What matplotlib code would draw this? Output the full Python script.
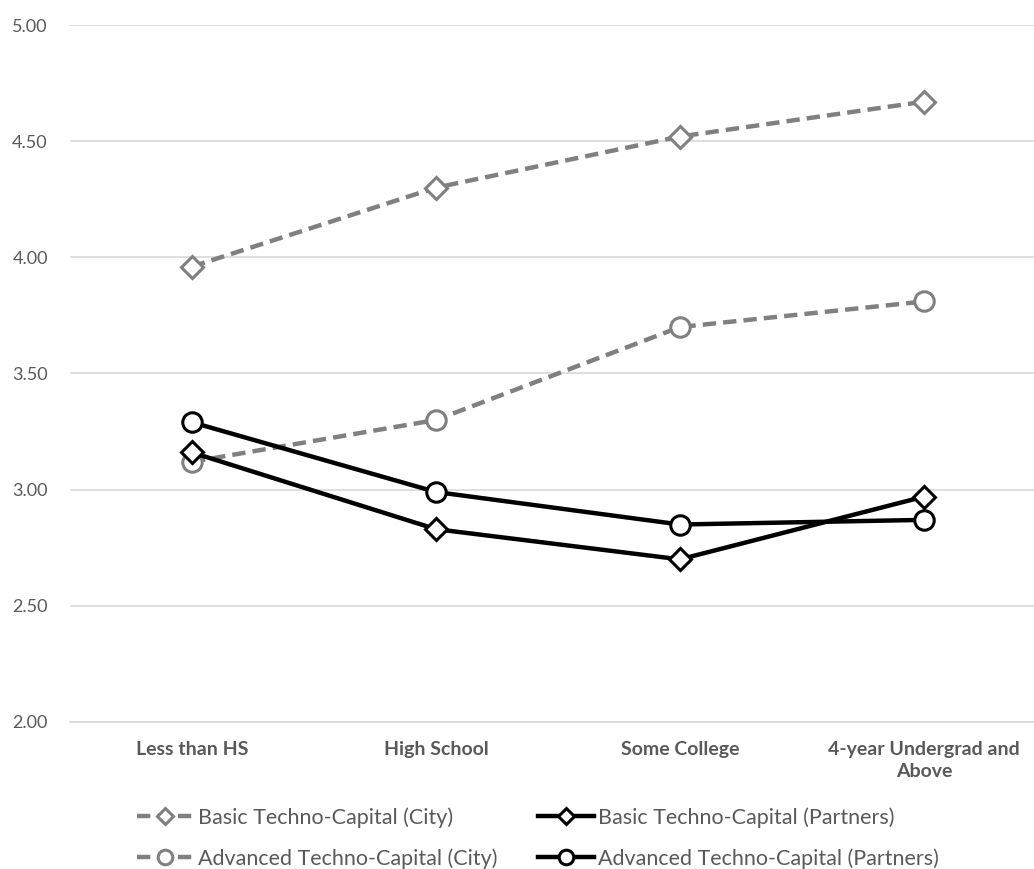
import matplotlib.pyplot as plt
import numpy as np

plt.rcParams['font.family'] = ['Lato', 'DejaVu Sans']

categories = ["Less than HS", "High School", "Some College", "4-year Undergrad and\nAbove"]
basic_city = [3.96, 4.30, 4.52, 4.67]
advanced_city = [3.12, 3.30, 3.70, 3.81]
basic_partners = [3.16, 2.83, 2.70, 2.97]
advanced_partners = [3.29, 2.99, 2.85, 2.87]

fig = plt.figure(figsize=(10.34, 8.69), dpi=100)
ax = fig.add_axes([70 / 1034, 1 - 722 / 869, 976 / 1034, 697 / 869])

x = np.arange(len(categories))
gray = "#808080"
lw = 3.2

ax.plot(x, basic_city, color=gray, lw=lw, ls=(0, (3, 1.6)), marker="D", ms=11,
        mfc="white", mec=gray, mew=2.2, label="Basic Techno-Capital (City)", zorder=3)
ax.plot(x, advanced_city, color=gray, lw=lw, ls=(0, (3, 1.6)), marker="o", ms=14,
        mfc="white", mec=gray, mew=2.2, label="Advanced Techno-Capital (City)", zorder=3)
ax.plot(x, basic_partners, color="black", lw=lw, marker="D", ms=11,
        mfc="white", mec="black", mew=2.2, label="Basic Techno-Capital (Partners)", zorder=4)
ax.plot(x, advanced_partners, color="black", lw=lw, marker="o", ms=14,
        mfc="white", mec="black", mew=2.2, label="Advanced Techno-Capital (Partners)", zorder=4)

ax.set_xlim(-0.5, len(categories) - 0.5)
ax.set_ylim(2.0, 5.0)
ax.set_yticks(np.arange(2.0, 5.01, 0.5))
ax.set_yticklabels([f"{v:.2f}" for v in np.arange(2.0, 5.01, 0.5)])
ax.set_xticks(x)
ax.set_xticklabels(categories, fontweight="bold", linespacing=1.35)
ax.grid(axis="y", color="#d9d9d9", lw=1.2)
ax.set_axisbelow(True)
for s in ["top", "right", "left"]:
    ax.spines[s].set_visible(False)
ax.spines["bottom"].set_color("#d9d9d9")
ax.spines["bottom"].set_linewidth(1.2)
ax.tick_params(axis="both", length=0, colors="#595959")
ax.tick_params(axis="y", pad=16, labelsize=13)
ax.tick_params(axis="x", pad=14, labelsize=14)

handles, labels = ax.get_legend_handles_labels()
fig.legend(handles, labels,
           loc="upper left", bbox_to_anchor=(118 / 1034, 1 - 788 / 869), ncol=2,
           frameon=False, fontsize=15.5, labelcolor="#595959", handlelength=2.6,
           columnspacing=1.9, handletextpad=0.2, labelspacing=0.95, markerscale=0.75)

plt.savefig("out.png", dpi=100)
